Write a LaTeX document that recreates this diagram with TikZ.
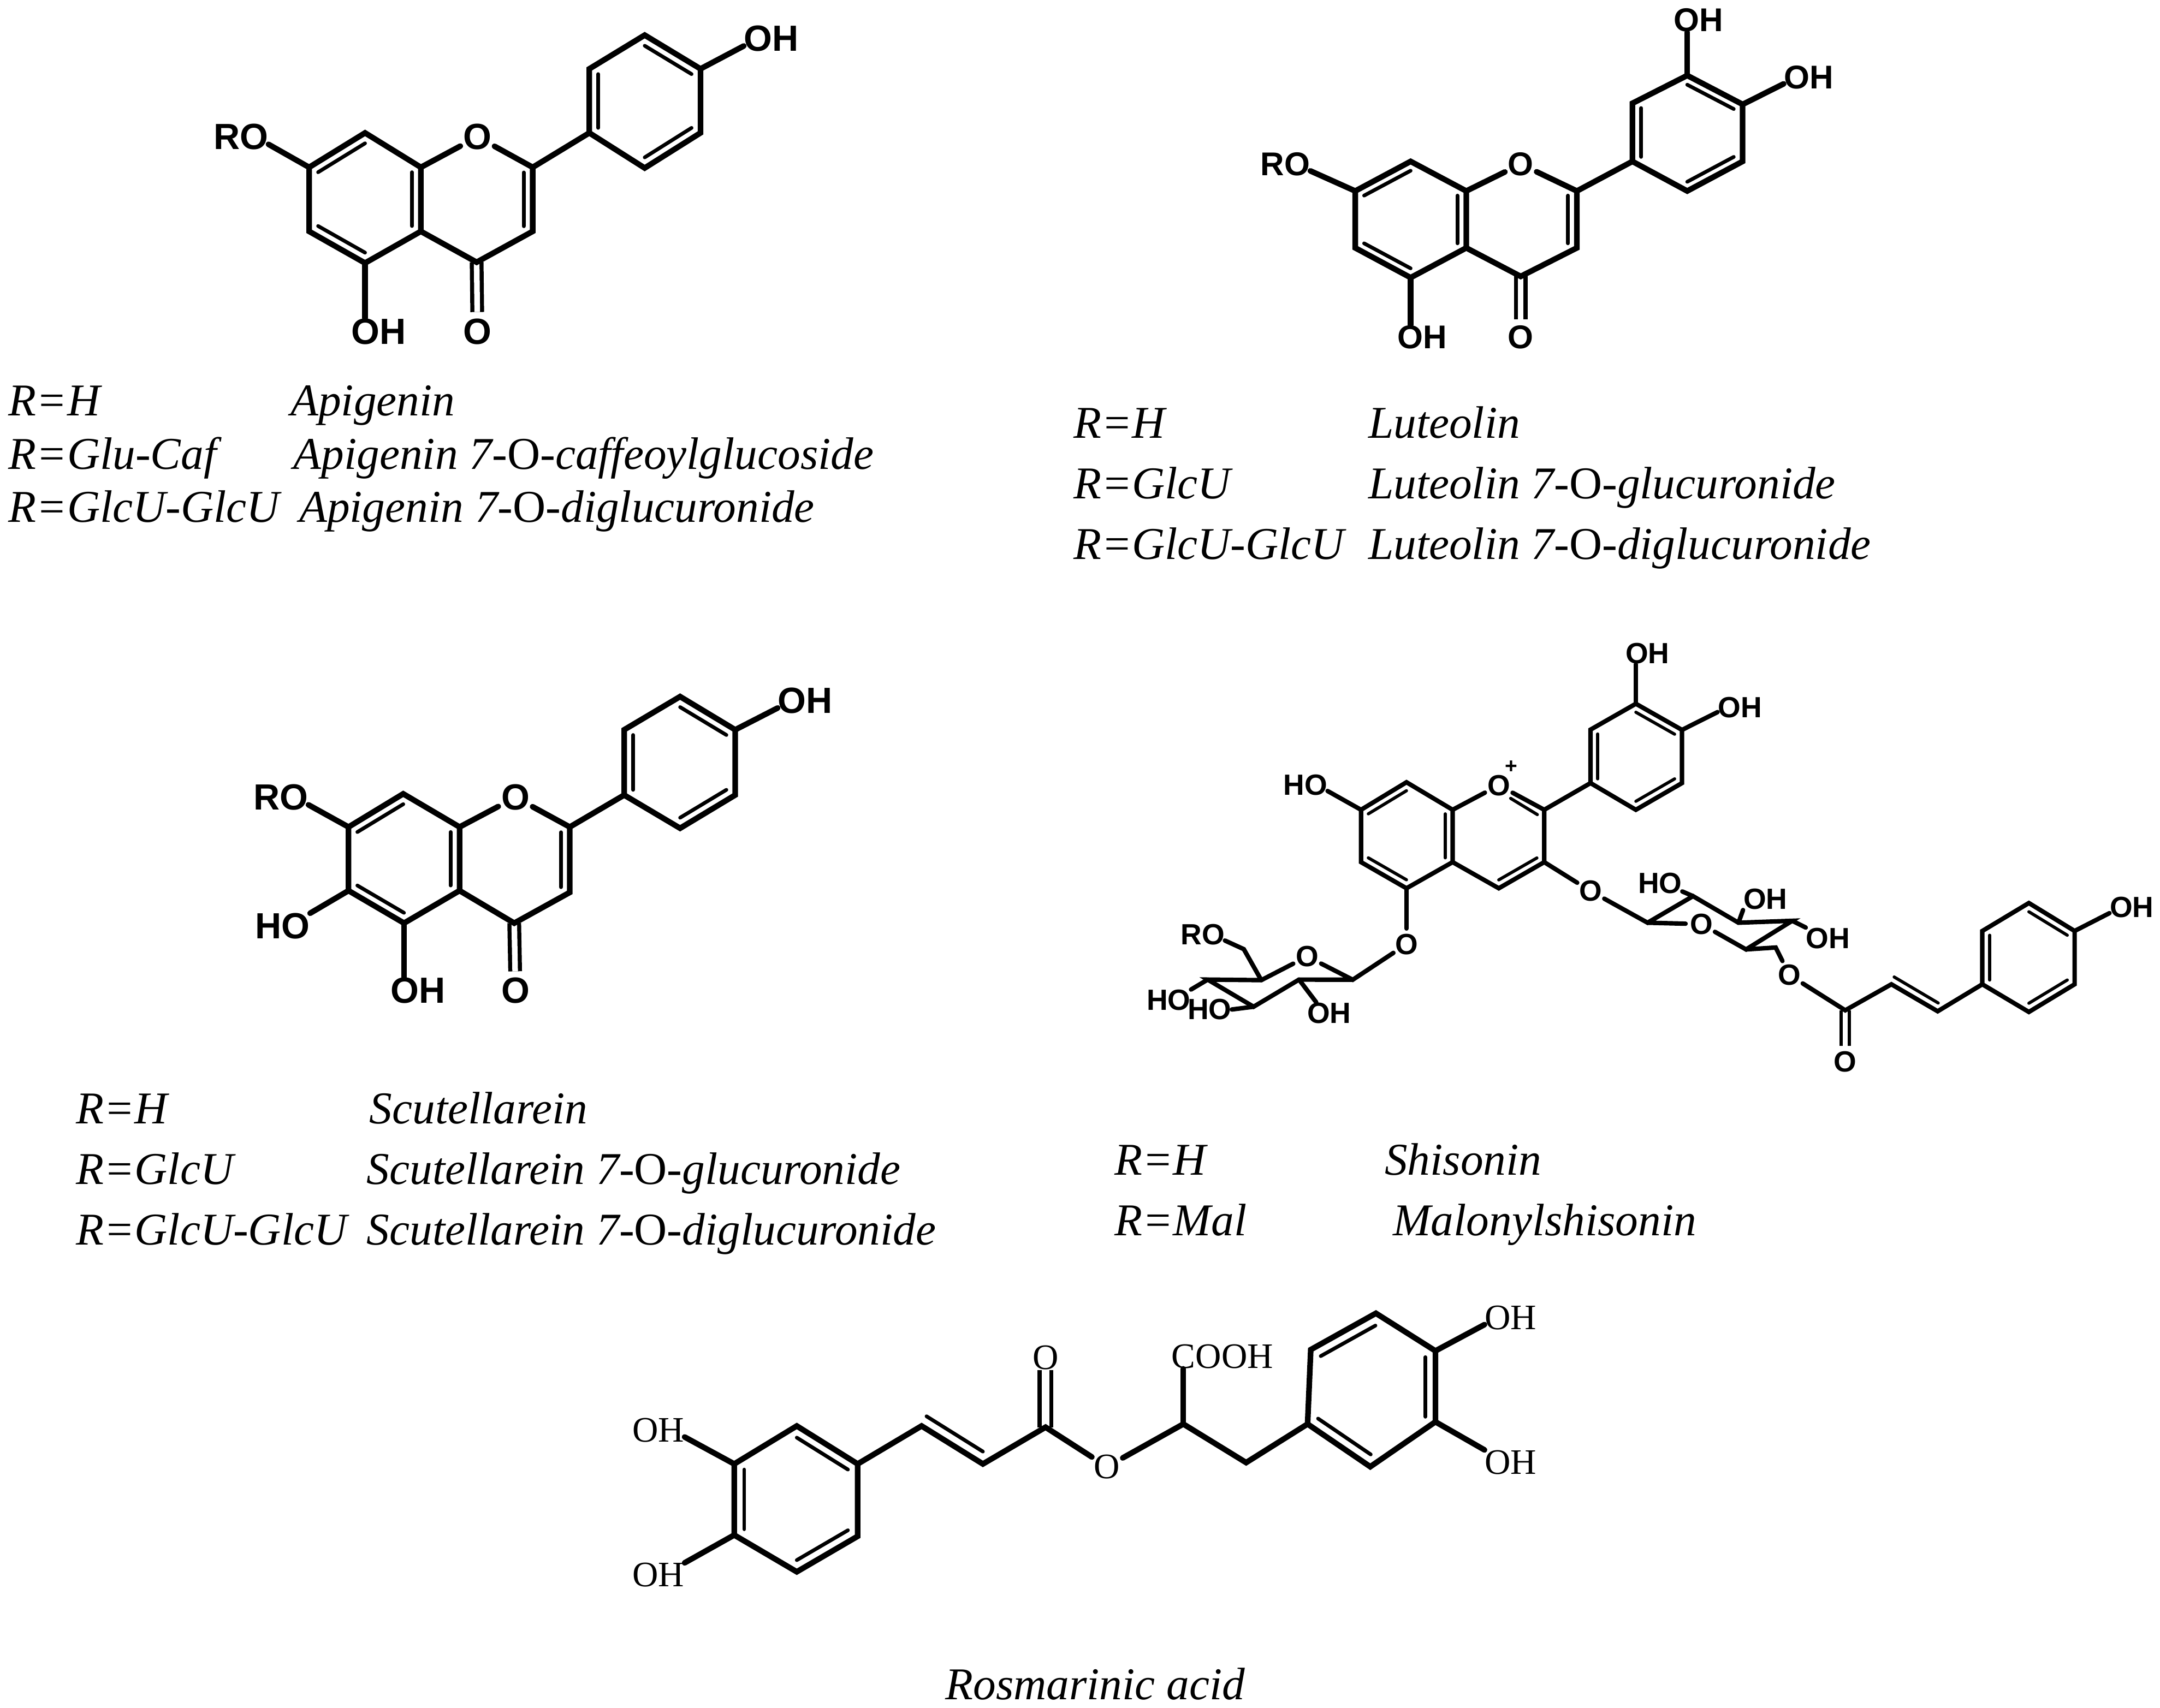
\documentclass[tikz,border=0pt]{standalone}
\usepackage{fontspec}
\setmainfont{Liberation Serif}
\setsansfont{Liberation Sans}
\usetikzlibrary{calc}
\tikzset{
  bond/.style={draw=black, line width=2.9pt, line cap=round},
  inner/.style={draw=black, line width=1.9pt, line cap=round},
  dblbond/.style={draw=black, line width=2.1pt, double, double distance=2.9pt, line cap=butt},
  sbond/.style={draw=black, line width=2.3pt, line cap=round},
  sinner/.style={draw=black, line width=1.6pt, line cap=round},
  sdblbond/.style={draw=black, line width=1.6pt, double, double distance=2.6pt, line cap=butt},
  labA/.style={inner sep=0pt, font=\sffamily\bfseries\fontsize{18.8}{20}\selectfont},
  labL/.style={inner sep=0pt, font=\sffamily\bfseries\fontsize{17}{20}\selectfont},
  labH/.style={inner sep=0pt, font=\sffamily\bfseries\fontsize{15.1}{18}\selectfont},
  labR/.style={inner sep=0pt, font=\fontsize{18.5}{20}\selectfont},
  ring/.style={circle},
  compd/.style={anchor=base west, inner sep=0pt, font=\itshape\fontsize{23.5}{28}\selectfont}
}
\newcommand{\dbl}[4][inner]{\draw[#1] ($(#2)!.16!(#4)$) -- ($(#3)!.16!(#4)$);}

\begin{document}
\begin{tikzpicture}[x=0.25mm,y=-0.25mm]
  \useasboundingbox (0,0) rectangle (1568,1240);

  % Apigenin
  \foreach \n/\x/\y in {7/224.4/121.5,8/265/96.5,8a/305.5/121.5,2/386.7/121.5,3/386.7/168,4/346/190.4,4a/305.5/168,5/265/191,6/224.4/168,
    b1/427.8/96.5,b2/427.8/50,b3/468/25.5,b4/508.5/50,b5/508.5/96.5,b6/468/122}
    \coordinate (a-\n) at (\x,\y);
  \node[labA,ring] (a-O) at (346.6,99.4) {O};
  \node[labA,ring] (a-Oc) at (346.6,240.7) {O};
  \node[labA] (a-RO) at (174.8,99.4) {RO};
  \node[labA] (a-OH4) at (560,28) {OH};
  \node[labA] (a-OH5) at (274.9,240.7) {OH};

  % Luteolin
  \foreach \n/\x/\y in {7/983.8/138.7,8/1024/117.2,8a/1064.4/138.7,2/1144.7/138.7,3/1144.7/180,4/1103.9/200.7,4a/1064.4/180,5/1024/201.6,6/983.8/180,
    b1/1185/117.2,b2/1185/75,b3/1224.8/54.8,b4/1265/75.8,b5/1265/117.2,b6/1224.8/138.7}
    \coordinate (l-\n) at (\x,\y);
  \node[labL,ring] (l-O) at (1103.9,119.2) {O};
  \node[labL,ring] (l-Oc) at (1103.9,244.7) {O};
  \node[labL] (l-RO) at (933,119.2) {RO};
  \node[labL] (l-OH3) at (1233,14.6) {OH};
  \node[labL] (l-OH4) at (1313,56) {OH};
  \node[labL] (l-OH5) at (1032.4,244.7) {OH};
  \draw[bond] (l-b3) -- (l-b3 |- l-OH3.south);

  % Scutellarein
  \foreach \n/\x/\y in {7/253/600.5,8/292.7/576.4,8a/333.6/600.5,2/413.6/600.5,3/413.6/648,4/373.3/670.3,4a/333.6/646.7,5/293.3/670.3,6/253/646.7,
    b1/453.1/577.3,b2/453.1/529.9,b3/493.7/505.8,b4/533.7/529.9,b5/533.7/577.3,b6/493.7/601.4}
    \coordinate (s-\n) at (\x,\y);
  \node[labA,ring] (s-O) at (374.2,579) {O};
  \node[labA,ring] (s-Oc) at (374.2,719.4) {O};
  \node[labA] (s-RO) at (203.8,579) {RO};
  \node[labA] (s-HO6) at (205,672.5) {HO};
  \node[labA] (s-OH4) at (584.6,508.7) {OH};
  \node[labA] (s-OH5) at (303.3,719.4) {OH};
  \draw[bond] (s-6) -- (s-HO6.25);

  % the three share one skeleton
  \foreach \m in {a,l,s}{
    \coordinate (\m-A) at ($(\m-8)!.5!(\m-5)$);
    \coordinate (\m-B) at ($(\m-b3)!.5!(\m-b6)$);
    \coordinate (\m-C) at ($(\m-8a)!.5!(\m-3)$);
    \draw[dblbond] (\m-4) -- (\m-Oc);
    \draw[bond] (\m-7) -- (\m-8) -- (\m-8a) -- (\m-4a) -- (\m-5) -- (\m-6) -- cycle;
    \draw[bond] (\m-8a) -- (\m-O);
    \draw[bond] (\m-O) -- (\m-2) -- (\m-3) -- (\m-4) -- (\m-4a);
    \draw[bond] (\m-2) -- (\m-b1);
    \draw[bond] (\m-b1) -- (\m-b2) -- (\m-b3) -- (\m-b4) -- (\m-b5) -- (\m-b6) -- cycle;
    \draw[bond] (\m-7) -- (\m-RO.345);
    \draw[bond] (\m-b4) -- (\m-OH4.195);
    \draw[bond] (\m-5) -- (\m-5 |- \m-OH5.north);
    \dbl{\m-7}{\m-8}{\m-A}
    \dbl{\m-8a}{\m-4a}{\m-A}
    \dbl{\m-5}{\m-6}{\m-A}
    \dbl{\m-2}{\m-3}{\m-C}
    \dbl{\m-b1}{\m-b2}{\m-B}
    \dbl{\m-b3}{\m-b4}{\m-B}
    \dbl{\m-b5}{\m-b6}{\m-B}
  }

  % Shisonin
  \foreach \n/\x/\y in {7/988/588,8/1021/568,8a/1054.5/588,2/1121/588,3/1121/626,4/1088/645,4a/1054.5/626,5/1021/645,6/988/626,
    b1/1154.6/568.6,b2/1154.6/529.8,b3/1187.5/511,b4/1221/530,b5/1221/568.6,b6/1187.5/588,
    i1/1096.6/579.7,i2/1116/591.5,
    g1/982/711.4,g2/943/711.3,g3/910/731,g4/876.7/711.3,g5/915.6/711.7,g6/902.9/689.2,
    k1/1196/670,k2/1229/650.7,k3/1262/670,k4/1301/668.6,k5/1267.5/689.4,k6/1289/688,
    c1/1339.5/733.6,c2/1373/714.7,c3/1406.6/734.3,c4/1375/709.4,c5/1407/728.3,
    d1/1439/714.7,d2/1439/676,d3/1472.8/655.7,d4/1506/676,d5/1506/714.7,d6/1472.8/734.8}
    \coordinate (h-\n) at (\x,\y);
  \coordinate (h-A) at ($(h-8)!.5!(h-5)$);
  \coordinate (h-B) at ($(h-b3)!.5!(h-b6)$);
  \coordinate (h-C) at ($(h-8a)!.5!(h-3)$);
  \coordinate (h-D) at ($(h-d3)!.5!(h-d6)$);
  \node[labH,ring] (h-O) at (1088,570.2) {O};
  \node[labH] (h-plus) at (1097,557) {\fontsize{11}{11}\selectfont +};
  \node[labH] (h-HO7) at (947.5,570) {HO};
  \node[labH] (h-OH3) at (1196,474.6) {OH};
  \node[labH] (h-OH4) at (1263,513.6) {OH};
  \node[labH,ring] (h-O5) at (1021,685.6) {O};
  \node[labH,ring] (h-O3) at (1154.6,647) {O};
  \node[labH,ring] (h-Og) at (948.9,694.5) {O};
  \node[labH] (h-RO) at (873,678.6) {RO};
  \node[labH] (h-OHg) at (964.8,735.6) {OH};
  \node[labH] (h-HOa) at (848.4,726.3) {HO};
  \node[labH] (h-HOb) at (878,733) {HO};
  \node[labH,ring] (h-Ok) at (1235,671) {O};
  \node[labH] (h-HOk) at (1205,641.4) {HO};
  \node[labH] (h-OHk) at (1281.5,653) {OH};
  \node[labH] (h-OHm) at (1327,681.3) {OH};
  \node[labH,ring] (h-Oe) at (1299,708) {O};
  \node[labH,ring] (h-Oc) at (1339.5,771) {O};
  \node[labH] (h-OHd) at (1547.5,658.7) {OH};
  \draw[sdblbond] (h-c1) -- (h-Oc);
  \draw[sbond] (h-7) -- (h-8) -- (h-8a) -- (h-4a) -- (h-5) -- (h-6) -- cycle;
  \draw[sbond] (h-8a) -- (h-O);
  \draw[sbond] (h-O) -- (h-2) -- (h-3) -- (h-4) -- (h-4a);
  \draw[sbond] (h-2) -- (h-b1);
  \draw[sbond] (h-b1) -- (h-b2) -- (h-b3) -- (h-b4) -- (h-b5) -- (h-b6) -- cycle;
  \draw[sbond] (h-7) -- (h-HO7.345);
  \draw[sbond] (h-b3) -- (h-b3 |- h-OH3.south);
  \draw[sbond] (h-b4) -- (h-OH4.192);
  \draw[sbond] (h-5) -- (h-O5);
  \draw[sbond] (h-3) -- (h-O3);
  \draw[sinner] (h-i1) -- (h-i2);
  \dbl[sinner]{h-7}{h-8}{h-A}
  \dbl[sinner]{h-8a}{h-4a}{h-A}
  \dbl[sinner]{h-5}{h-6}{h-A}
  \dbl[sinner]{h-3}{h-4}{h-C}
  \dbl[sinner]{h-b1}{h-b2}{h-B}
  \dbl[sinner]{h-b3}{h-b4}{h-B}
  \dbl[sinner]{h-b5}{h-b6}{h-B}
  % left sugar
  \draw[sbond] (h-O5) -- (h-g1) -- (h-Og) -- (h-g5) -- (h-g4) -- (h-g3) -- (h-g2) -- (h-g1);
  \draw[sbond] (h-g5) -- (h-g6) -- (h-RO.345);
  \draw[sbond] (h-g2) -- (h-OHg.140);
  \draw[sbond] (h-g4) -- (h-HOa.north east);
  \draw[sbond] (h-g3) -- (h-HOb.east);
  % right sugar and the ester
  \draw[sbond] (h-O3) -- (h-k1) -- (h-k2) -- (h-k3) -- (h-k4) -- (h-k5) -- (h-Ok) -- (h-k1);
  \draw[sbond] (h-k2) -- (h-HOk.340);
  \draw[sbond] (h-k3) -- (h-OHk.south west);
  \draw[sbond] (h-k4) -- (h-OHm.north west);
  \draw[sbond] (h-k5) -- (h-k6) -- (h-Oe);
  \draw[sbond] (h-Oe) -- (h-c1) -- (h-c2) -- (h-c3) -- (h-d1);
  \draw[sinner] (h-c4) -- (h-c5);
  \draw[sbond] (h-d1) -- (h-d2) -- (h-d3) -- (h-d4) -- (h-d5) -- (h-d6) -- cycle;
  \draw[sbond] (h-d4) -- (h-OHd.195);
  \dbl[sinner]{h-d1}{h-d2}{h-D}
  \dbl[sinner]{h-d3}{h-d4}{h-D}
  \dbl[sinner]{h-d5}{h-d6}{h-D}

  % Rosmarinic acid
  \foreach \n/\x/\y in {a1/533/1063,a2/578.4/1035.4,a3/622.6/1063,a4/622.6/1115.5,a5/578.4/1141.3,a6/533/1114.6,
    c1/669/1035.4,c2/713.5/1063,c3/759/1036.3,c4/672.6/1028.4,c5/713.5/1054,
    e1/859/1034,e2/904.6/1062,
    f1/949.2/1034,f2/951.5/980,f3/998.8/953.6,f4/1042/980.9,f5/1042/1032.4,f6/994.7/1065}
    \coordinate (r-\n) at (\x,\y);
  \coordinate (r-A) at ($(r-a2)!.5!(r-a5)$);
  \coordinate (r-F) at ($(r-f3)!.5!(r-f6)$);
  \node[labR] (r-OHa) at (477.9,1038.3) {OH};
  \node[labR] (r-OHb) at (477.9,1143.7) {OH};
  \node[labR] (r-Oc) at (759,985.8) {O};
  \node[labR,ring] (r-Oe) at (803.6,1065) {O};
  \node[labR] (r-COOH) at (887.4,984.9) {COOH};
  \node[labR] (r-OHf) at (1096.7,956.7) {OH};
  \node[labR] (r-OHg) at (1096.7,1061.7) {OH};
  \draw[dblbond,double distance=4pt] (r-c3) -- (r-Oc);
  \draw[bond] (r-a1) -- (r-a2) -- (r-a3) -- (r-a4) -- (r-a5) -- (r-a6) -- cycle;
  \draw[bond] (r-a1) -- (r-OHa.345);
  \draw[bond] (r-a6) -- (r-OHb.25);
  \draw[bond] (r-a3) -- (r-c1) -- (r-c2) -- (r-c3) -- (r-Oe) -- (r-e1) -- (r-e2) -- (r-f1);
  \draw[inner] (r-c4) -- (r-c5);
  \draw[bond] (r-e1) -- (r-e1 |- r-COOH.south);
  \draw[bond] (r-f1) -- (r-f2) -- (r-f3) -- (r-f4) -- (r-f5) -- (r-f6) -- cycle;
  \draw[bond] (r-f4) -- (r-OHf.195);
  \draw[bond] (r-f5) -- (r-OHg.155);
  \dbl{r-a1}{r-a6}{r-A}
  \dbl{r-a2}{r-a3}{r-A}
  \dbl{r-a4}{r-a5}{r-A}
  \dbl{r-f1}{r-f6}{r-F}
  \dbl{r-f2}{r-f3}{r-F}
  \dbl{r-f4}{r-f5}{r-F}

  % names
  \node[compd] (a-t1) at (6,302) {R=H};
  \node[compd] (a-t2) at (6,340.5) {R=Glu-Caf};
  \node[compd] (a-t3) at (6,379) {R=GlcU-GlcU};
  \node[compd] (a-n1) at (210.7,302) {Apigenin};
  \node[compd] (a-n2) at (212.9,340.5) {Apigenin 7-\textup{O}-caffeoylglucoside};
  \node[compd] (a-n3) at (217,379) {Apigenin 7-\textup{O}-diglucuronide};
  \node[compd] (l-t1) at (779,318) {R=H};
  \node[compd] (l-t2) at (779,362) {R=GlcU};
  \node[compd] (l-t3) at (779,406) {R=GlcU-GlcU};
  \node[compd] (l-n1) at (993,318) {Luteolin};
  \node[compd] (l-n2) at (993,362) {Luteolin 7-\textup{O}-glucuronide};
  \node[compd] (l-n3) at (993,406) {Luteolin 7-\textup{O}-diglucuronide};
  \node[compd] (s-t1) at (55,816) {R=H};
  \node[compd] (s-t2) at (55,860) {R=GlcU};
  \node[compd] (s-t3) at (55,904) {R=GlcU-GlcU};
  \node[compd] (s-n1) at (268,816) {Scutellarein};
  \node[compd] (s-n2) at (266,860) {Scutellarein 7-\textup{O}-glucuronide};
  \node[compd] (s-n3) at (266,904) {Scutellarein 7-\textup{O}-diglucuronide};
  \node[compd] (h-t1) at (809,853) {R=H};
  \node[compd] (h-t2) at (809,897) {R=Mal};
  \node[compd] (h-n1) at (1005,853) {Shisonin};
  \node[compd] (h-n2) at (1011,897) {Malonylshisonin};
  \node[compd,anchor=base] (r-n) at (795,1234) {Rosmarinic acid};
\end{tikzpicture}
\end{document}
